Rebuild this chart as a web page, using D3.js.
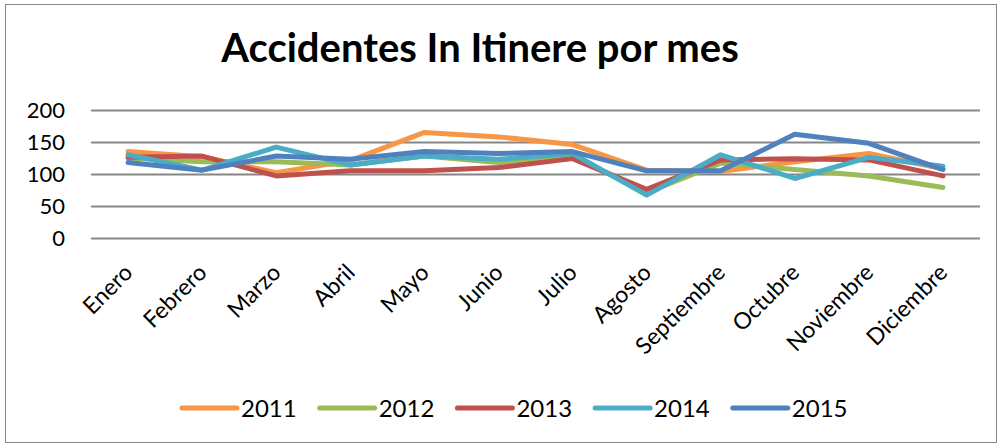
<!DOCTYPE html>
<html>
<head>
<meta charset="utf-8">
<title>Accidentes In Itinere</title>
<script src="https://d3js.org/d3.v7.min.js"></script>
<style>
  body { margin: 0; background: #fff; }
  text { font-family: Lato, "Open Sans", sans-serif; fill: #000; }
</style>
</head>
<body>
<script type="text/javascript">
	var screenWidth  = 1002;
	var screenHeight = 448;

	var months = ["Enero","Febrero","Marzo","Abril","Mayo","Junio","Julio","Agosto","Septiembre","Octubre","Noviembre","Diciembre"];
	var years  = ["2011","2012","2013","2014","2015"];
	var colours = ["#F79646","#9BBB59","#C0504D","#4BACC6","#4F81BD"];
	var yTicks = [0, 50, 100, 150, 200];

	var v2011 = [135, 127, 102, 121, 165, 158, 146, 106, 104, 119, 132, 108];
	var v2012 = [125, 119, 119, 114, 128, 118, 128, 71, 117, 107, 97, 79];
	var v2013 = [126, 128, 97, 105, 105, 110, 124, 76, 122, 124, 122, 97];
	var v2014 = [130, 106, 142, 114, 128, 123, 132, 67, 130, 93, 126, 112];
	var v2015 = [118, 106, 128, 123, 135, 132, 135, 105, 105, 162, 148, 107];
	var series = [v2011, v2012, v2013, v2014, v2015];

	var plot = {left: 91, right: 980, top: 110, bottom: 238};

	var xScale = d3.scaleBand().domain(months).range([plot.left, plot.right]);
	var yScale = d3.scaleLinear().domain([0, 200]).range([plot.bottom, plot.top]);

	var svg = d3.select("body").append("svg")
		.attr("width", screenWidth)
		.attr("height", screenHeight);

	// chart border
	svg.append("rect")
		.attr("x", 5.5).attr("y", 4.5)
		.attr("width", 991).attr("height", 438)
		.attr("fill", "#fff").attr("stroke", "#868686").attr("stroke-width", 1);

	// title
	svg.append("text")
		.attr("x", 480).attr("y", 62)
		.attr("text-anchor", "middle")
		.attr("font-size", 40).attr("font-weight", "bold")
		.text("Accidentes In Itinere por mes");

	// gridlines + y labels
	var yAxis = d3.axisLeft(yScale).tickValues(yTicks)
		.tickSize(-(plot.right - plot.left)).tickPadding(26);
	var gy = svg.append("g").attr("transform", "translate(" + plot.left + ",0)").call(yAxis);
	gy.select(".domain").remove();
	gy.selectAll(".tick line").attr("stroke", "#868686").attr("stroke-width", 2);
	gy.selectAll(".tick text").attr("font-size", 22).attr("font-family", "Lato, sans-serif")
		.attr("dy", "0.35em");

	// x labels, rotated
	var xAxis = d3.axisBottom(xScale).tickSize(0).tickPadding(0);
	var gx = svg.append("g").attr("transform", "translate(0," + plot.bottom + ")").call(xAxis);
	gx.select(".domain").remove();
	gx.selectAll(".tick text")
		.attr("font-size", 23).attr("font-family", "Lato, sans-serif")
		.attr("text-anchor", "end")
		.attr("dy", "0")
		.attr("transform", "translate(6,36) rotate(-45)");

	// lines
	var line = d3.line()
		.x((d, i) => xScale(months[i]) + xScale.bandwidth() / 2)
		.y(d => yScale(d));

	svg.selectAll("path.series").data(series).enter().append("path")
		.attr("class", "series")
		.attr("d", d => line(d))
		.attr("fill", "none")
		.attr("stroke", (d, i) => colours[i])
		.attr("stroke-width", 5)
		.attr("stroke-linejoin", "round")
		.attr("stroke-linecap", "round");

	// legend
	var legend = svg.selectAll("g.legend").data(years).enter().append("g")
		.attr("class", "legend")
		.attr("transform", (d, i) => "translate(" + (182 + i * 137.7) + ",408)");
	legend.append("line")
		.attr("x1", 0).attr("x2", 55).attr("y1", 0).attr("y2", 0)
		.attr("stroke", (d, i) => colours[i]).attr("stroke-width", 5)
		.attr("stroke-linecap", "round");
	legend.append("text")
		.attr("x", 59).attr("y", 9)
		.attr("font-size", 24)
		.text(d => d);
</script>
</body>
</html>
